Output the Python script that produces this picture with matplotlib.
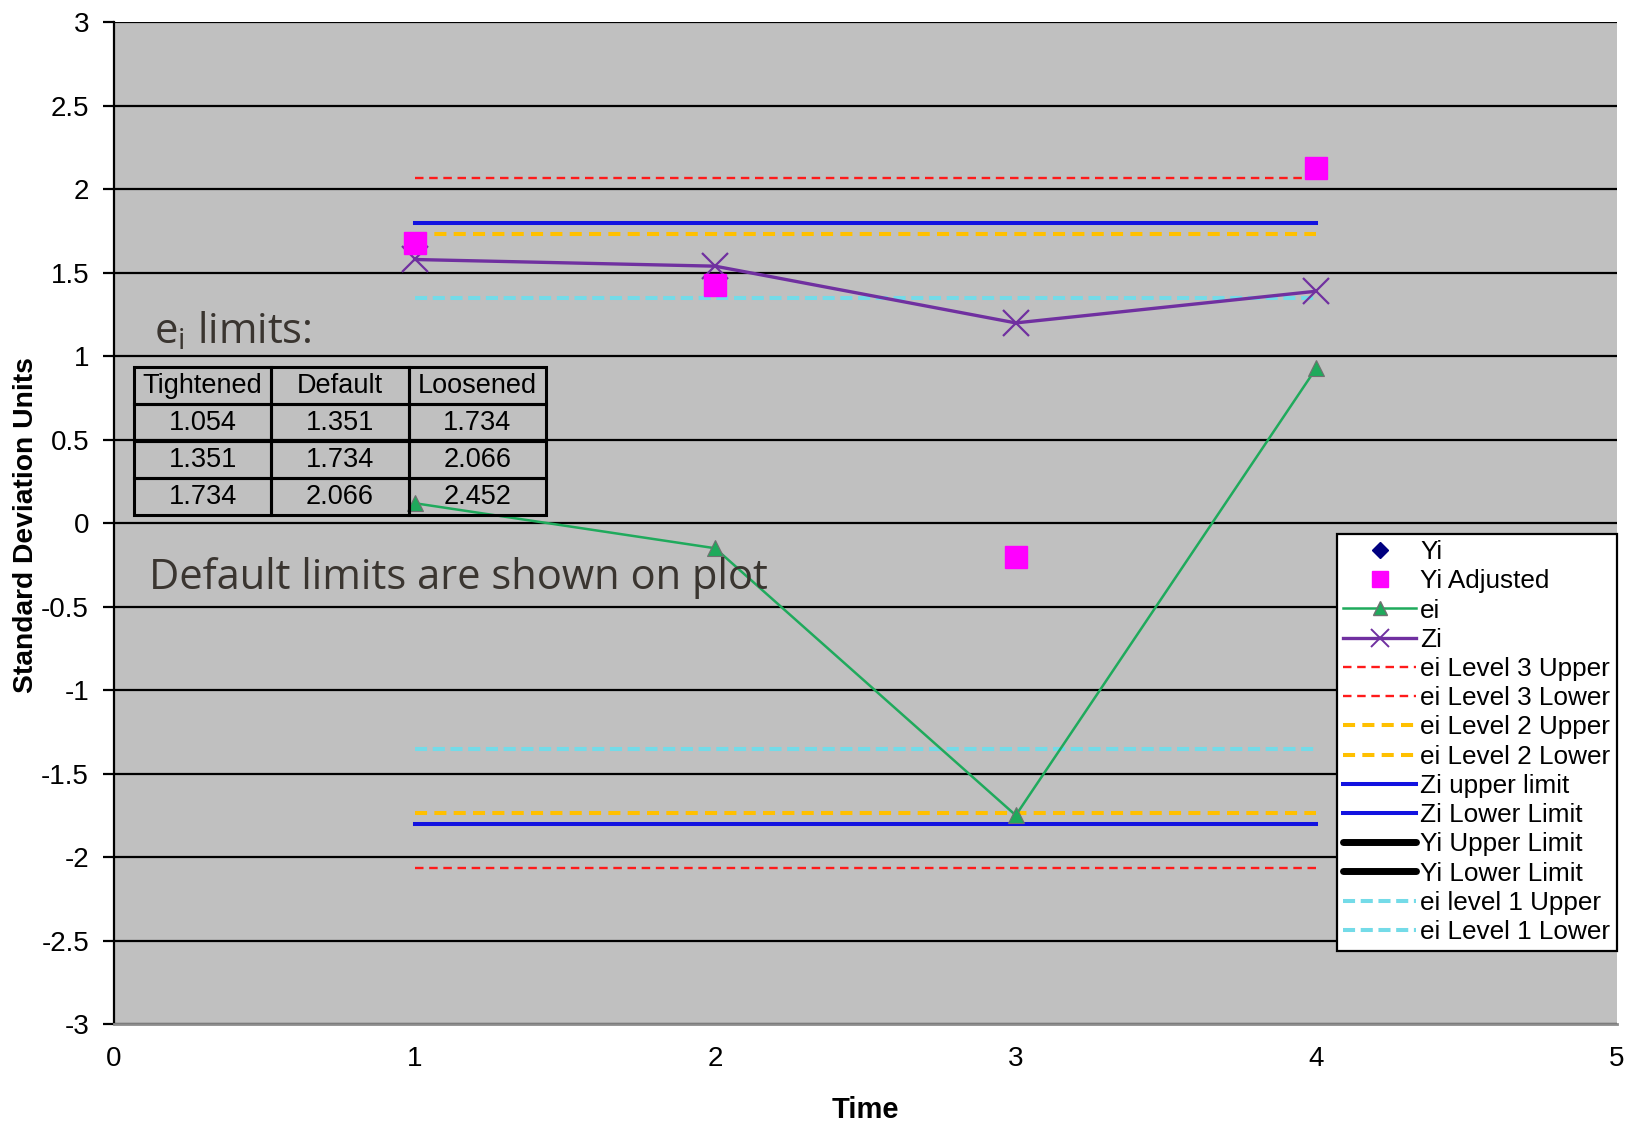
import matplotlib

matplotlib.use("Agg")
import matplotlib.pyplot as plt
from matplotlib.lines import Line2D

# Data
time = [1, 2, 3, 4]
yi_adjusted = [1.68, 1.43, -0.20, 2.13]
ei = [0.12, -0.15, -1.75, 0.93]
zi = [1.58, 1.54, 1.20, 1.39]

limit_x = [1, 4]
ei_level3 = 2.066
ei_level2 = 1.734
ei_level1 = 1.351
zi_limit = 1.8

table_cols = ["Tightened", "Default", "Loosened"]
table_rows = [
    ["1.054", "1.351", "1.734"],
    ["1.351", "1.734", "2.066"],
    ["1.734", "2.066", "2.452"],
]

plt.rcParams.update({
    "font.family": ["Liberation Sans", "DejaVu Sans"],
    "font.size": 20,
})

COLORS = {
    "bg": "#c0c0c0",
    "green": "#1faa5c",
    "purple": "#7030a0",
    "magenta": "#ff00ff",
    "navy": "#000080",
    "red": "#ff1a1a",
    "orange": "#ffc000",
    "blue": "#1212e0",
    "cyan": "#74dbe8",
}

fig = plt.figure(figsize=(16.29, 11.24), dpi=100)
ax = fig.add_axes([0.070, 0.089, 0.9226, 0.891])
ax.set_facecolor(COLORS["bg"])

# horizontal gridlines
for g in [i * 0.5 for i in range(-6, 7)]:
    ax.axhline(g, color="black", linewidth=1.6, zorder=1)


# limit lines
def hline(y, **kw):
    ax.plot(limit_x, [y, y], **kw)


red_kw = dict(color=COLORS["red"], linewidth=1.7, dashes=(3.6, 2.4))
orange_kw = dict(color=COLORS["orange"], linewidth=2.9, dashes=(3.0, 1.8))
blue_kw = dict(color=COLORS["blue"], linewidth=2.9)
cyan_kw = dict(color=COLORS["cyan"], linewidth=2.9, dashes=(3.0, 1.4))

for s in (1, -1):
    hline(s * ei_level3, zorder=2, **red_kw)
    hline(s * ei_level1, zorder=2, **cyan_kw)
    hline(s * zi_limit, zorder=2, **blue_kw)
    hline(s * ei_level2, zorder=2, **orange_kw)

# series
ax.plot(time, ei, color=COLORS["green"], linewidth=1.8, marker="^", markersize=11,
        markerfacecolor=COLORS["green"], markeredgecolor="#707070", markeredgewidth=0.8,
        zorder=3)
ax.plot(time, zi, color=COLORS["purple"], linewidth=2.4, marker="x", markersize=19,
        markeredgewidth=1.6, zorder=4)
ax.plot(time, yi_adjusted, linestyle="none", marker="s", markersize=16,
        color=COLORS["magenta"], zorder=5)

ax.set_xlim(0, 5)
ax.set_ylim(-3, 3)
ax.set_yticks([i * 0.5 for i in range(-6, 7)])
ax.set_yticklabels(["-3", "-2.5", "-2", "-1.5", "-1", "-0.5", "0", "0.5", "1", "1.5",
                    "2", "2.5", "3"])
ax.set_xticks([0, 1, 2, 3, 4, 5])
ax.tick_params(axis="y", length=8, width=1.6, pad=10, labelsize=20)
ax.tick_params(axis="x", length=0, pad=16, labelsize=20)

ax.spines["left"].set_linewidth(1.6)
ax.spines["right"].set_visible(False)
ax.spines["top"].set_visible(False)
ax.spines["bottom"].set_color("#8c8c8c")
ax.spines["bottom"].set_linewidth(2)

# axis titles
fig.text(0.5 * (0.070 + 0.9926), 1 - 1110 / 1124, "Time", fontsize=21, fontweight="bold",
         ha="center", va="center")
fig.text(26 / 1629, 1 - 525 / 1124, "Standard Deviation Units", fontsize=20.3,
         fontweight="bold", rotation=90, ha="center", va="center")

# annotations
ax.text(0.133, 1.08, r"e$_\mathregular{i}$ limits:", fontsize=30, family="Open Sans",
        color="#3a3530", va="baseline", ha="left", zorder=6)
ax.text(0.116, -0.33, "Default limits are shown on plot", fontsize=30, family="Open Sans",
        color="#3a3530", va="center", ha="left", zorder=6)

tbl = ax.table(cellText=table_rows, colLabels=table_cols, cellLoc="center",
               bbox=[0.0133, 0.508, 0.274, 0.148], zorder=6)
tbl.auto_set_font_size(False)
tbl.set_fontsize(19.5)
for cell in tbl.get_celld().values():
    cell.set_facecolor("none")
    cell.set_edgecolor("black")
    cell.set_linewidth(2.2)

# legend
handles = [
    Line2D([], [], linestyle="none", marker="D", markersize=8, color=COLORS["navy"]),
    Line2D([], [], linestyle="none", marker="s", markersize=12, color=COLORS["magenta"]),
    Line2D([], [], color=COLORS["green"], linewidth=1.8, marker="^", markersize=10,
           markerfacecolor=COLORS["green"], markeredgecolor="#707070"),
    Line2D([], [], color=COLORS["purple"], linewidth=2.4, marker="x", markersize=13,
           markeredgewidth=1.4),
    Line2D([], [], **red_kw),
    Line2D([], [], **red_kw),
    Line2D([], [], **orange_kw),
    Line2D([], [], **orange_kw),
    Line2D([], [], **blue_kw),
    Line2D([], [], **blue_kw),
    Line2D([], [], color="black", linewidth=5, solid_capstyle="round"),
    Line2D([], [], color="black", linewidth=5, solid_capstyle="round"),
    Line2D([], [], **cyan_kw),
    Line2D([], [], **cyan_kw),
]
labels = ["Yi", "Yi Adjusted", "ei", "Zi", "ei Level 3 Upper", "ei Level 3 Lower",
          "ei Level 2 Upper", "ei Level 2 Lower", "Zi upper limit", "Zi Lower Limit",
          "Yi Upper Limit", "Yi Lower Limit", "ei level 1 Upper", "ei Level 1 Lower"]
leg = ax.legend(handles, labels, loc="upper right", bbox_to_anchor=(1.0, 0.4896),
                fontsize=18.8, handlelength=2.8, handletextpad=0.15, labelspacing=0.2,
                borderpad=0.25, borderaxespad=0, frameon=True, fancybox=False,
                framealpha=1, facecolor="white", edgecolor="black")
leg.get_frame().set_linewidth(1.6)
leg.set_zorder(7)

fig.savefig("out.png", dpi=100)
